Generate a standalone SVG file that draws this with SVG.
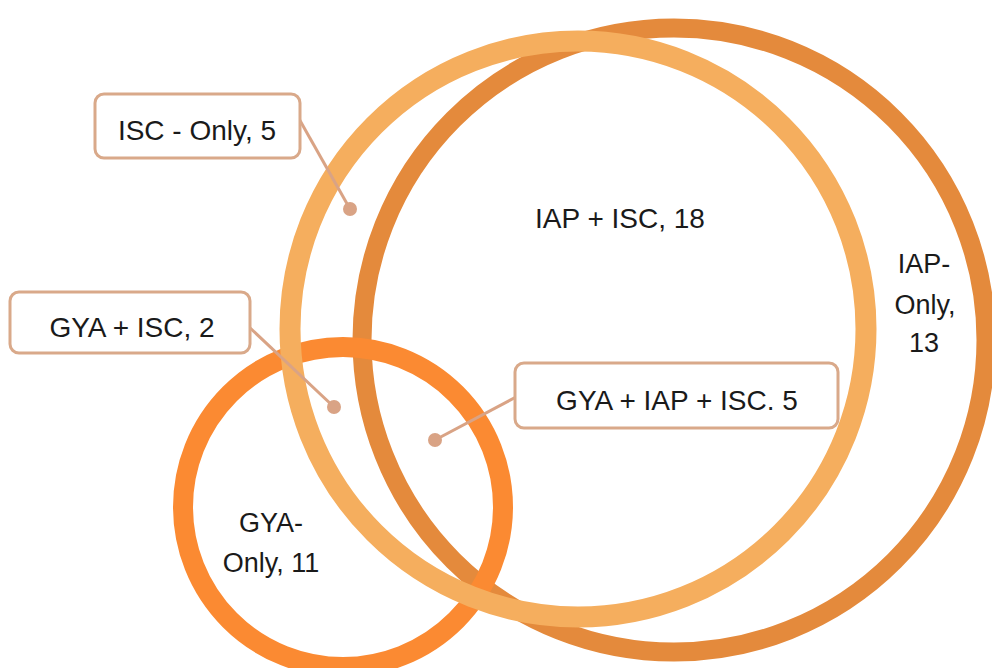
<svg xmlns="http://www.w3.org/2000/svg" width="992" height="668" viewBox="0 0 992 668">
<style>
.ring{fill:none}
.box{fill:#ffffff;stroke:#D9A98A;stroke-width:3}
.lead{stroke:#D9A385;stroke-width:3;fill:none}
.dot{fill:#D9A385}
.t{font-family:"Liberation Sans",Arial,sans-serif;font-size:28px;fill:#1a1a1a;text-anchor:middle}
.t2{font-family:"Liberation Sans",Arial,sans-serif;font-size:27px;fill:#1a1a1a;text-anchor:middle}
</style>
<rect width="992" height="668" fill="#ffffff"/>
<g id="circle-iap"><circle class="ring" cx="674" cy="340" r="312" stroke="#E48A3C" stroke-width="19"/></g>
<g id="circle-gya"><circle class="ring" cx="343" cy="507" r="160" stroke="#FB8A32" stroke-width="20"/></g>
<g id="circle-isc"><circle class="ring" cx="578" cy="329" r="288" stroke="#F5AE5E" stroke-width="21"/></g>
<g id="connectors">
<line class="lead" x1="298" y1="117" x2="350" y2="209"/>
<circle class="dot" cx="350" cy="209" r="7"/>
<line class="lead" x1="248" y1="326" x2="334" y2="407"/>
<circle class="dot" cx="334" cy="407" r="7"/>
<line class="lead" x1="516" y1="397" x2="435" y2="440"/>
<circle class="dot" cx="435" cy="440" r="7"/>
</g>
<g id="label-isc-only">
<rect class="box" x="95" y="94" width="205" height="64" rx="9"/>
<text class="t" x="197" y="140">ISC - Only, 5</text>
</g>
<g id="label-gya-isc">
<rect class="box" x="10" y="292" width="240" height="61" rx="9"/>
<text class="t" x="132" y="337">GYA + ISC, 2</text>
</g>
<g id="label-gya-iap-isc">
<rect class="box" x="515" y="363" width="323" height="65" rx="9"/>
<text class="t" x="677" y="410">GYA + IAP + ISC. 5</text>
</g>
<g id="label-iap-isc">
<text class="t" x="620" y="228">IAP + ISC, 18</text>
</g>
<g id="label-iap-only">
<text class="t2" x="924" y="273">IAP-</text>
<text class="t2" x="925" y="314">Only,</text>
<text class="t2" x="924" y="352">13</text>
</g>
<g id="label-gya-only">
<text class="t2" x="271" y="532">GYA-</text>
<text class="t2" x="271" y="572">Only, 11</text>
</g>
</svg>
